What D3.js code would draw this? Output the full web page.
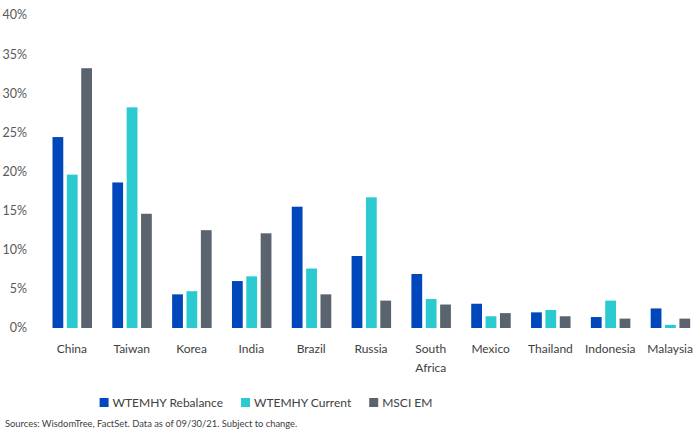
<!DOCTYPE html>
<html>
<head>
<meta charset="utf-8">
<script src="https://d3js.org/d3.v7.min.js"></script>
<style>
  body { margin: 0; background: #fff; }
  text { font-family: Lato, "Open Sans", sans-serif; }
</style>
</head>
<body>
<svg id="chart" width="700" height="436"></svg>
<script>
  // Country weights (%)
  const countries = ["China", "Taiwan", "Korea", "India", "Brazil", "Russia", "South Africa",
    "Mexico", "Thailand", "Indonesia", "Malaysia"];
  const seriesNames = ["WTEMHY Rebalance", "WTEMHY Current", "MSCI EM"];
  const rebalance = [24.4, 18.6, 4.3, 6.0, 15.5, 9.2, 6.9, 3.1, 2.0, 1.4, 2.5];
  const current = [19.6, 28.2, 4.7, 6.6, 7.6, 16.7, 3.7, 1.5, 2.3, 3.5, 0.4];
  const msciEM = [33.2, 14.6, 12.5, 12.1, 4.3, 3.5, 3.0, 1.9, 1.5, 1.2, 1.2];
  const yTicks = [0, 5, 10, 15, 20, 25, 30, 35, 40];
  const colors = ["#0047bb", "#2bc9d0", "#5a646e"];

  const svg = d3.select("#chart");
  const allSeries = [rebalance, current, msciEM];

  const x = d3.scaleBand().domain(countries).range([42, 700]);
  const xInner = d3.scaleBand().domain(seriesNames).range([10.5, 50]).paddingInner(0.25);
  const y = d3.scaleLinear().domain([0, 40]).range([328, 15]);

  // y labels, no gridlines
  svg.append("g").selectAll("text").data(yTicks)
    .join("text")
    .attr("x", 27)
    .attr("y", d => y(d))
    .attr("dy", "0.35em")
    .attr("text-anchor", "end")
    .attr("font-size", 12.5)
    .attr("fill", "#595959")
    .text(d => d + "%");

  // bars
  const groups = svg.append("g").selectAll("g").data(countries)
    .join("g")
    .attr("transform", d => "translate(" + x(d) + ",0)");

  groups.selectAll("rect")
    .data((c, i) => seriesNames.map((s, j) => ({ s: s, j: j, v: allSeries[j][i] })))
    .join("rect")
    .attr("x", d => xInner(d.s))
    .attr("width", xInner.bandwidth())
    .attr("y", d => y(d.v))
    .attr("height", d => y(0) - y(d.v))
    .attr("fill", d => colors[d.j]);

  // category labels (South Africa wraps)
  const labels = svg.append("g").selectAll("text").data(countries)
    .join("text")
    .attr("x", d => x(d) + x.bandwidth() / 2)
    .attr("y", 353)
    .attr("text-anchor", "middle")
    .attr("font-size", 12)
    .attr("fill", "#404040");
  labels.each(function (d) {
    const words = d.split(" ");
    d3.select(this).selectAll("tspan").data(words)
      .join("tspan")
      .attr("x", x(d) + x.bandwidth() / 2)
      .attr("dy", (w, i) => i === 0 ? 0 : 19)
      .text(w => w);
  });

  // legend: measure the texts and centre the row like the original
  const legend = svg.append("g");
  const items = legend.selectAll("g").data(seriesNames)
    .join("g");
  items.append("rect")
    .attr("width", 9).attr("height", 9)
    .attr("fill", (d, i) => colors[i]);
  items.append("text")
    .attr("x", 13).attr("y", 4.5).attr("dy", "0.35em")
    .attr("font-size", 12)
    .attr("fill", "#404040")
    .text(d => d);
  let pos = 0;
  const offsets = [];
  items.each(function () {
    offsets.push(pos);
    pos += 13 + d3.select(this).select("text").node().getComputedTextLength() + 18;
  });
  const totalW = pos - 18;
  const startX = 266 - totalW / 2;
  items.attr("transform", (d, i) => "translate(" + (startX + offsets[i]) + ",398)");

  svg.append("text")
    .attr("x", 5).attr("y", 427)
    .attr("font-size", 9.4)
    .attr("fill", "#404040")
    .text("Sources: WisdomTree, FactSet. Data as of 09/30/21. Subject to change.");
</script>
</body>
</html>
